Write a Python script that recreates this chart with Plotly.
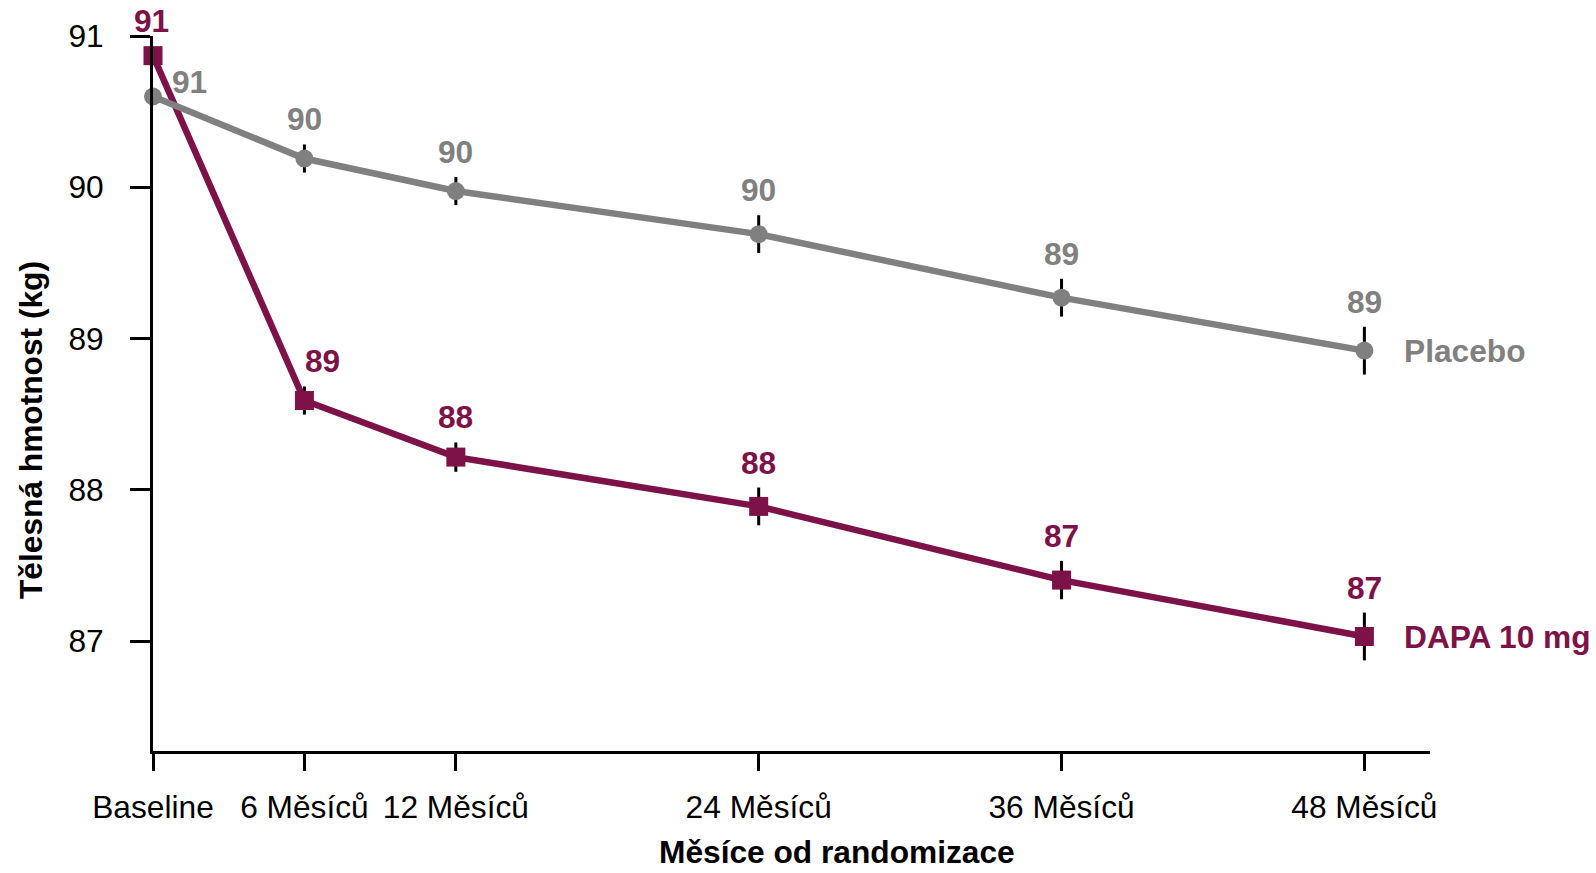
import plotly.graph_objects as go

# Body weight over time (kg), means with standard errors
months = [0, 6, 12, 24, 36, 48]
tick_labels = ["Baseline", "6 Měsíců", "12 Měsíců", "24 Měsíců", "36 Měsíců", "48 Měsíců"]

placebo_mean = [90.60, 90.19, 89.975, 89.69, 89.27, 88.92]
placebo_se = [0.0, 0.093, 0.093, 0.125, 0.125, 0.158]

dapa_mean = [90.87, 88.59, 88.216, 87.89, 87.403, 87.03]
dapa_se = [0.0, 0.093, 0.097, 0.125, 0.127, 0.158]

y_ticks = [87, 88, 89, 90, 91]

GRAY = "#808080"
PLUM = "#7d1249"
FONT = "Liberation Sans, Arial, sans-serif"
FS = 31.7

# plot area in pixels
W, H = 1596, 873
L, R, T, B = 153, 166, 36, 122
plot_w = W - L - R
plot_h = H - T - B

fig = go.Figure()

fig.add_trace(go.Scatter(
    x=months, y=dapa_mean, mode="lines+markers", name="DAPA 10 mg",
    line=dict(color=PLUM, width=6.5),
    marker=dict(symbol="square", size=19, color=PLUM),
    error_y=dict(type="data", array=dapa_se, visible=True, color="black",
                 thickness=3, width=0),
    cliponaxis=False, showlegend=False,
))
fig.add_trace(go.Scatter(
    x=months, y=placebo_mean, mode="lines+markers", name="Placebo",
    line=dict(color=GRAY, width=6.5),
    marker=dict(symbol="circle", size=18, color=GRAY),
    error_y=dict(type="data", array=placebo_se, visible=True, color="black",
                 thickness=3, width=0),
    cliponaxis=False, showlegend=False,
))

annotations = []

def value_labels(xs, ys, errs, color, dx, dy_base):
    for i, (x, y, e) in enumerate(zip(xs, ys, errs)):
        if i == 0:
            # first point has no error bar; label sits near the marker
            annotations.append(dict(
                x=x, y=y, xref="x", yref="y", text=f"{y:.0f}", showarrow=False,
                font=dict(family=FONT, size=FS, color=color, weight="bold"),
                xanchor="center", yanchor="middle",
                xshift=dx[i], yshift=dy_base,
            ))
        else:
            annotations.append(dict(
                x=x, y=y + e, xref="x", yref="y", text=f"{y:.0f}", showarrow=False,
                font=dict(family=FONT, size=FS, color=color, weight="bold"),
                xanchor="center", yanchor="middle",
                xshift=dx[i], yshift=25,
            ))

value_labels(months, placebo_mean, placebo_se, GRAY, [36, 0, 0, 0, 0, 0], 15)
value_labels(months, dapa_mean, dapa_se, PLUM, [-2, 18, 0, 0, 0, 0], 35)

# series names at the end of each line
annotations.append(dict(
    x=months[-1], y=placebo_mean[-1], xref="x", yref="y", text="Placebo",
    showarrow=False, xanchor="left", yanchor="middle", xshift=38,
    font=dict(family=FONT, size=FS, color=GRAY, weight="bold"),
))
annotations.append(dict(
    x=months[-1], y=dapa_mean[-1], xref="x", yref="y", text="DAPA 10 mg",
    showarrow=False, xanchor="left", yanchor="middle", xshift=38,
    font=dict(family=FONT, size=FS, color=PLUM, weight="bold"),
))

# axis titles
annotations.append(dict(
    x=(837 - L) / plot_w, y=-(872 - (H - B)) / plot_h, xref="paper", yref="paper",
    text="Měsíce od randomizace", showarrow=False, xanchor="center", yanchor="bottom",
    font=dict(family=FONT, size=FS, color="black", weight="bold"),
))
annotations.append(dict(
    x=(31 - L) / plot_w, y=((H - B) - 430) / plot_h, xref="paper", yref="paper",
    text="Tělesná hmotnost (kg)", showarrow=False, textangle=-90,
    xanchor="center", yanchor="middle",
    font=dict(family=FONT, size=FS, color="black", weight="bold"),
))

fig.update_layout(
    width=W, height=H,
    margin=dict(l=L, r=R, t=T, b=B),
    paper_bgcolor="white", plot_bgcolor="white",
    font=dict(family=FONT, size=FS, color="black"),
    annotations=annotations,
    xaxis=dict(
        range=[0, 50.6], tickmode="array", tickvals=months, ticktext=tick_labels,
        showgrid=False, zeroline=False, showline=True, linecolor="black", linewidth=3,
        ticks="outside", ticklen=17, tickwidth=3, tickcolor="black",
        tickfont=dict(family=FONT, size=FS, color="black"),
        ticklabelstandoff=9,
    ),
    yaxis=dict(
        range=[86.273, 91], tickmode="array", tickvals=y_ticks,
        showgrid=False, zeroline=False, showline=True, linecolor="black", linewidth=3,
        ticks="outside", ticklen=20, tickwidth=3, tickcolor="black",
        tickfont=dict(family=FONT, size=FS, color="black"),
        ticklabelstandoff=20,
    ),
)

fig.write_html("out.html")
